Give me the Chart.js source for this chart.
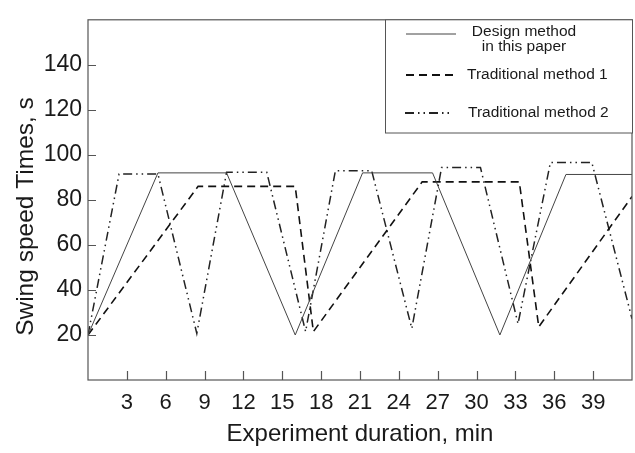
<!DOCTYPE html>
<html>
<head>
<meta charset="utf-8">
<script src="https://cdn.jsdelivr.net/npm/chart.js@4.4.0/dist/chart.umd.min.js"></script>
<style>
html,body{margin:0;padding:0;background:#fff;}
#wrap{width:635px;height:453px;}
</style>
</head>
<body>
<div id="wrap"><canvas id="c" width="635" height="453"></canvas></div>
<script>
// ---- data ----
const xTickValues = [3, 6, 9, 12, 15, 18, 21, 24, 27, 30, 33, 36, 39];
const yTickValues = [20, 40, 60, 80, 100, 120, 140];

const designX = [0, 5.4, 10.7, 16.0, 21.2, 26.6, 31.8, 36.9, 42];
const designY = [20, 92, 92, 20, 92, 92, 20, 91.3, 91.3];

const trad1X = [0, 8.5, 16.0, 17.4, 25.8, 33.3, 34.8, 42];
const trad1Y = [20, 86, 86, 21.5, 88, 88, 23.6, 81.5];

const trad2X = [0, 2.4, 5.4, 8.4, 10.7, 13.8, 16.8, 19.1, 21.9, 25.0, 27.3, 30.3, 33.2, 35.7, 38.9, 42];
const trad2Y = [20, 91.5, 91.5, 20.7, 92.3, 92.3, 21.5, 93, 93, 22.9, 94.4, 94.4, 25, 96.6, 96.6, 27.2];

const seriesNames = ["Design method in this paper", "Traditional method 1", "Traditional method 2"];
const legendLines = [["Design method", "in this paper"], ["Traditional method 1"], ["Traditional method 2"]];
const xTitle = "Experiment duration, min";
const yTitle = "Swing speed Times, s";

const FONT = "'Liberation Sans', Arial, Helvetica, sans-serif";
const toPts = (xs, ys) => xs.map((x, i) => ({x: x, y: ys[i]}));

const frameTicks = {
  id: 'frameTicks',
  afterDatasetsDraw(chart) {
    const {ctx, chartArea: a, scales: {x, y}} = chart;
    ctx.save();
    ctx.strokeStyle = '#555';
    ctx.lineWidth = 1.2;
    ctx.strokeRect(a.left, a.top, a.right - a.left, a.bottom - a.top);
    ctx.beginPath();
    xTickValues.forEach(v => {
      const px = Math.round(x.getPixelForValue(v)) + 0.5;
      ctx.moveTo(px, a.bottom); ctx.lineTo(px, a.bottom - 9);
    });
    yTickValues.forEach(v => {
      const py = Math.round(y.getPixelForValue(v)) + 0.5;
      ctx.moveTo(a.left, py); ctx.lineTo(a.left + 8, py);
    });
    ctx.stroke();
    // y-axis title
    ctx.fillStyle = '#1a1a1a';
    ctx.font = '24.5px ' + FONT;
    ctx.translate(33, 216.5);
    ctx.rotate(-Math.PI / 2);
    ctx.textAlign = 'center';
    ctx.textBaseline = 'alphabetic';
    ctx.fillText(yTitle, 0, 0);
    ctx.restore();
  }
};

const boxLegend = {
  id: 'boxLegend',
  afterDraw(chart) {
    const {ctx, chartArea: a} = chart;
    const bx = 385, by = a.top, bw = a.right - 385, bh = 133 - a.top;
    ctx.save();
    ctx.fillStyle = '#fff';
    ctx.fillRect(bx, by, bw, bh);
    ctx.strokeStyle = '#555';
    ctx.lineWidth = 1;
    ctx.strokeRect(bx + 0.5, by, bw, bh);
    const rows = [
      {y: 34, x1: 406, x2: 456, tx: [524, 524], ty: [32, 47], align: 'center'},
      {y: 75, x1: 406, x2: 453, tx: [467], ty: [75], align: 'left'},
      {y: 113, x1: 405, x2: 453, tx: [468], ty: [113], align: 'left'}
    ];
    chart.data.datasets.forEach((ds, i) => {
      const r = rows[i];
      ctx.beginPath();
      ctx.strokeStyle = ds.borderColor;
      ctx.lineWidth = ds.legendWidth;
      ctx.setLineDash(ds.borderDash || []);
      ctx.moveTo(r.x1, r.y); ctx.lineTo(r.x2, r.y);
      ctx.stroke();
      ctx.setLineDash([]);
      ctx.fillStyle = '#1a1a1a';
      ctx.font = '15.5px ' + FONT;
      ctx.textAlign = r.align;
      ctx.textBaseline = 'middle';
      legendLines[i].forEach((t, k) => ctx.fillText(t, r.tx[k], r.ty[k]));
    });
    ctx.restore();
  }
};

new Chart(document.getElementById('c'), {
  type: 'scatter',
  data: {
    datasets: [
      {label: seriesNames[0], data: toPts(designX, designY), showLine: true,
       borderColor: '#444', borderWidth: 1, legendWidth: 1, pointRadius: 0, tension: 0},
      {label: seriesNames[1], data: toPts(trad1X, trad1Y), showLine: true,
       borderColor: '#111', borderWidth: 1.6, legendWidth: 2, borderDash: [8, 5], pointRadius: 0, tension: 0},
      {label: seriesNames[2], data: toPts(trad2X, trad2Y), showLine: true,
       borderColor: '#222', borderWidth: 1.5, legendWidth: 2, borderDash: [9, 4, 1.5, 4, 1.5, 4], pointRadius: 0, tension: 0}
    ]
  },
  options: {
    responsive: false,
    devicePixelRatio: 1,
    animation: false,
    layout: {padding: {top: 7, right: 3, left: 0, bottom: 0}},
    plugins: {legend: {display: false}, tooltip: {enabled: false}},
    scales: {
      x: {
        type: 'linear', position: 'bottom', min: 0, max: 42,
        grid: {display: false, drawTicks: false, tickLength: 0}, border: {display: false},
        afterBuildTicks: s => { s.ticks = xTickValues.map(v => ({value: v})); },
        afterFit: s => { s.height = 73; },
        ticks: {font: {family: FONT, size: 22}, color: '#1a1a1a', padding: 10, maxRotation: 0, autoSkip: false},
        title: {display: true, text: xTitle, color: '#1a1a1a', font: {family: FONT, size: 24}, padding: {top: 2, bottom: 4}}
      },
      y: {
        type: 'linear', position: 'left', min: 0, max: 160,
        grid: {display: false, drawTicks: false, tickLength: 0}, border: {display: false},
        afterBuildTicks: s => { s.ticks = yTickValues.map(v => ({value: v})); },
        afterFit: s => { s.width = 88; },
        ticks: {font: {family: FONT, size: 23}, color: '#1a1a1a', padding: 6, autoSkip: false}
      }
    }
  },
  plugins: [frameTicks, boxLegend]
});
</script>
</body>
</html>
